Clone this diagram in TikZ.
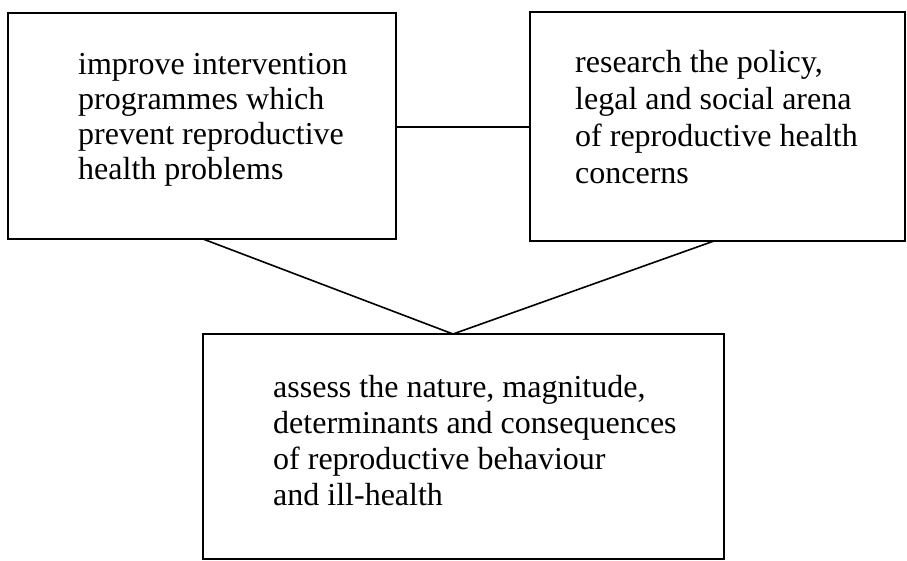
\documentclass[tikz,border=0pt]{standalone}
\usepackage{fontspec}
\setmainfont{Liberation Serif}
\begin{document}
\begin{tikzpicture}[x=1pt,y=-1pt,
  box/.style={draw=black, line width=1.6pt},
  link/.style={draw=black, line width=1.6pt},
  label/.style={anchor=base west, inner sep=0pt, align=left}]
  \useasboundingbox (0,0) rectangle (907,560);
  % the three boxes
  \draw[box] (8,13) rectangle (396,239);
  \draw[box] (530,12) rectangle (905,241);
  \draw[box] (203,334) rectangle (724,559);
  % connector end points on the box edges
  \coordinate (lbe) at (396,127);
  \coordinate (rbw) at (530,127);
  \coordinate (lbs) at (203,239);
  \coordinate (rbs) at (714,241);
  \coordinate (apex) at (453,334);
  \draw[link] (lbe) -- (rbw);
  \draw[link] (lbs) -- (apex) -- (rbs);
  % texts (positioned by the baseline of their last line)
  \node[label, font=\fontsize{32}{34.7}\selectfont] (ltext) at (78,179)
    {improve intervention\\programmes which\\prevent reproductive\\health problems};
  \node[label, font=\fontsize{32}{36.7}\selectfont] (rtext) at (575,183)
    {research the policy,\\legal and social arena\\of reproductive health\\concerns};
  \node[label, font=\fontsize{32}{36}\selectfont] (btext) at (273,505)
    {assess the nature, magnitude,\\determinants and consequences\\of reproductive behaviour\\and ill-health};
\end{tikzpicture}
\end{document}
